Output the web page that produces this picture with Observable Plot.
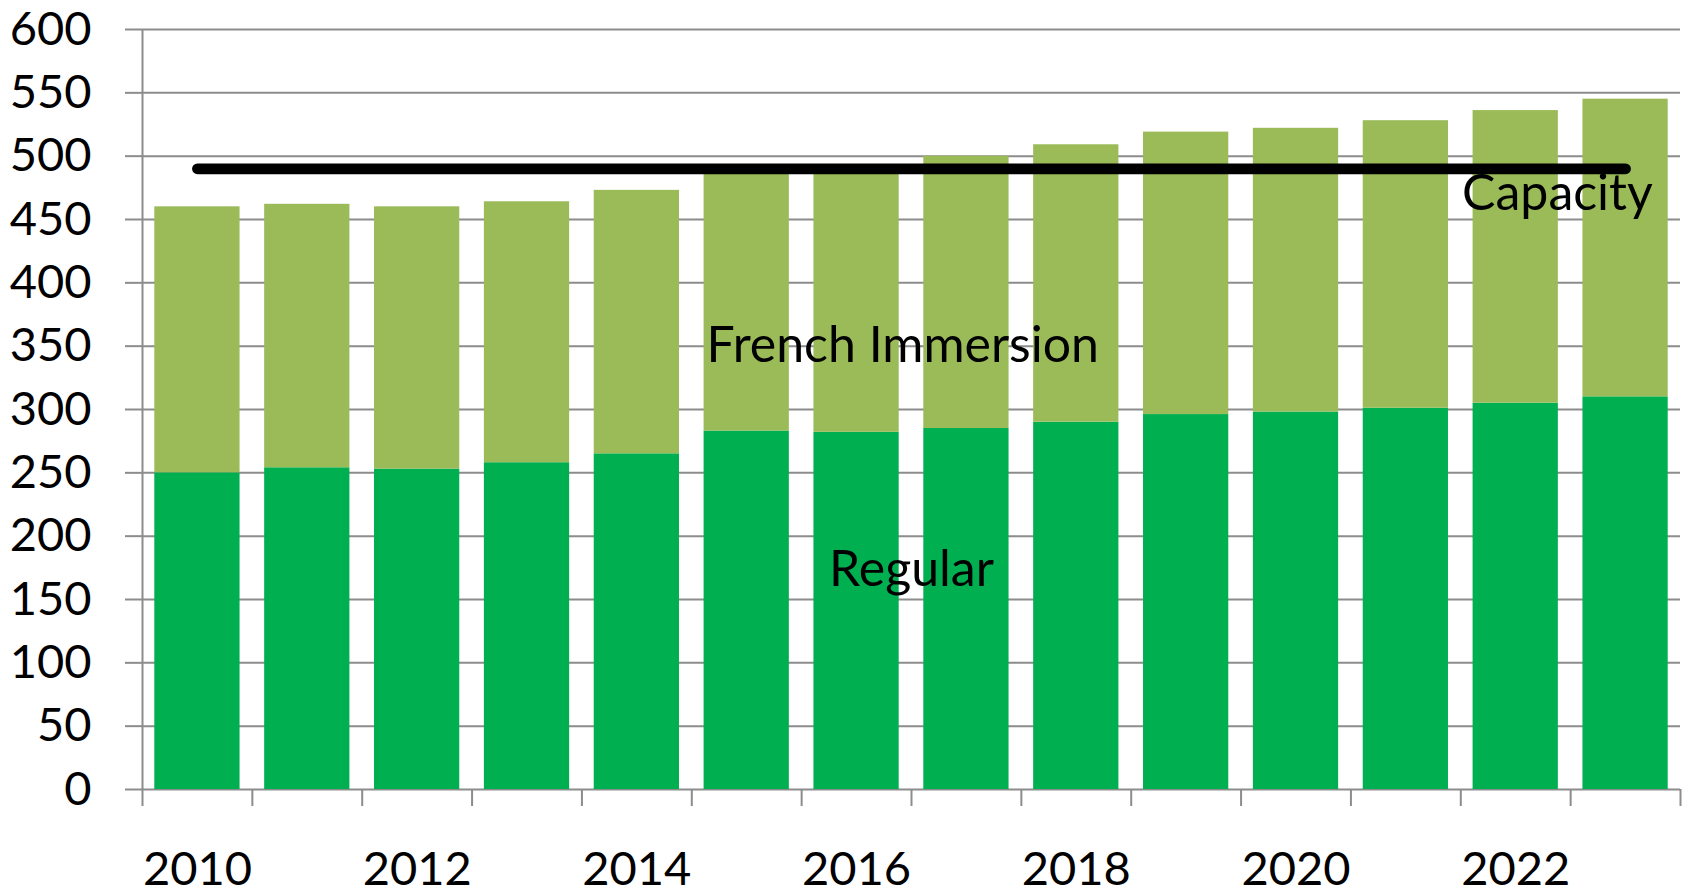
<!DOCTYPE html>
<html>
<head>
<meta charset="utf-8">
<script src="https://cdn.jsdelivr.net/npm/d3@7"></script>
<script src="https://cdn.jsdelivr.net/npm/@observablehq/plot@0.6"></script>
<style>
  html, body { margin: 0; padding: 0; background: #fff; overflow: hidden; }
</style>
</head>
<body>
<div id="chart"></div>
<script>
// ---- Data ----
const years = [2010, 2011, 2012, 2013, 2014, 2015, 2016, 2017, 2018, 2019, 2020, 2021, 2022, 2023];
const regular = [250, 254, 253, 258, 265, 283, 282, 285, 290, 296, 298, 301, 305, 310];
const frenchImmersion = [210, 208, 207, 206, 208, 206, 208, 215, 219, 223, 224, 227, 231, 235];
const capacity = 490;
const yTicks = [0, 50, 100, 150, 200, 250, 300, 350, 400, 450, 500, 550, 600];
const xTickLabels = [2010, 2012, 2014, 2016, 2018, 2020, 2022];
const seriesNames = ["Regular", "French Immersion"];
const seriesColors = ["#00B050", "#9BBB59"];
const labelText = ["French Immersion", "Regular", "Capacity"];
const labelX = [2016.42, 2016.5, 2022.38];
const labelY = [350.5, 173.5, 470.5];

// ---- Build tables ----
const bars = years.flatMap((yr, i) => [
  {year: yr, type: "Regular", y1: 0, y2: regular[i]},
  {year: yr, type: "French Immersion", y1: regular[i], y2: regular[i] + frenchImmersion[i]}
]);
const capLine = years.map(yr => ({year: yr, value: capacity}));
const labels = labelText.map((t, i) => ({text: t, x: labelX[i], y: labelY[i]}));
const boundaries = years.map(yr => yr - 0.5).concat([years[years.length - 1] + 0.5]);

const gray = "#8c8c8c";
const fs = 47;

const chart = Plot.plot({
  width: 1685,
  height: 894,
  marginLeft: 142,
  marginRight: 5,
  marginTop: 29,
  marginBottom: 105,
  style: {fontFamily: "Lato, 'Open Sans', sans-serif", background: "#fff"},
  x: {domain: [years[0] - 0.5, years[years.length - 1] + 0.5]},
  y: {domain: [0, 600]},
  color: {domain: seriesNames, range: seriesColors},
  marks: [
    Plot.gridY({ticks: yTicks, stroke: gray, strokeOpacity: 1, strokeWidth: 2}),
    Plot.rect(bars, {
      x1: d => d.year - 0.5, x2: d => d.year + 0.5,
      y1: "y1", y2: "y2", fill: "type",
      insetLeft: 12.3, insetRight: 12.3
    }),
    Plot.ruleX([boundaries[0]], {y1: 0, y2: 600, stroke: gray, strokeWidth: 2}),
    Plot.axisY({ticks: yTicks, tickSize: 17, tickPadding: 34, fontSize: fs,
      stroke: gray, strokeWidth: 2, fill: "black", label: null}),
    Plot.axisX({ticks: boundaries, tickSize: 17, tickFormat: () => "",
      stroke: gray, strokeWidth: 2, label: null}),
    Plot.axisX({ticks: xTickLabels, tickSize: 0, tickPadding: 62, fontSize: fs,
      tickFormat: d => String(d), fill: "black", label: null}),
    Plot.line(capLine, {x: "year", y: "value", stroke: "black", strokeWidth: 10.7, strokeLinecap: "round"}),
    Plot.text(labels, {x: "x", y: "y", text: "text", fontSize: 50, fill: "black",
      textAnchor: "middle", lineAnchor: "middle"})
  ]
});
document.getElementById("chart").appendChild(chart);
</script>
</body>
</html>
